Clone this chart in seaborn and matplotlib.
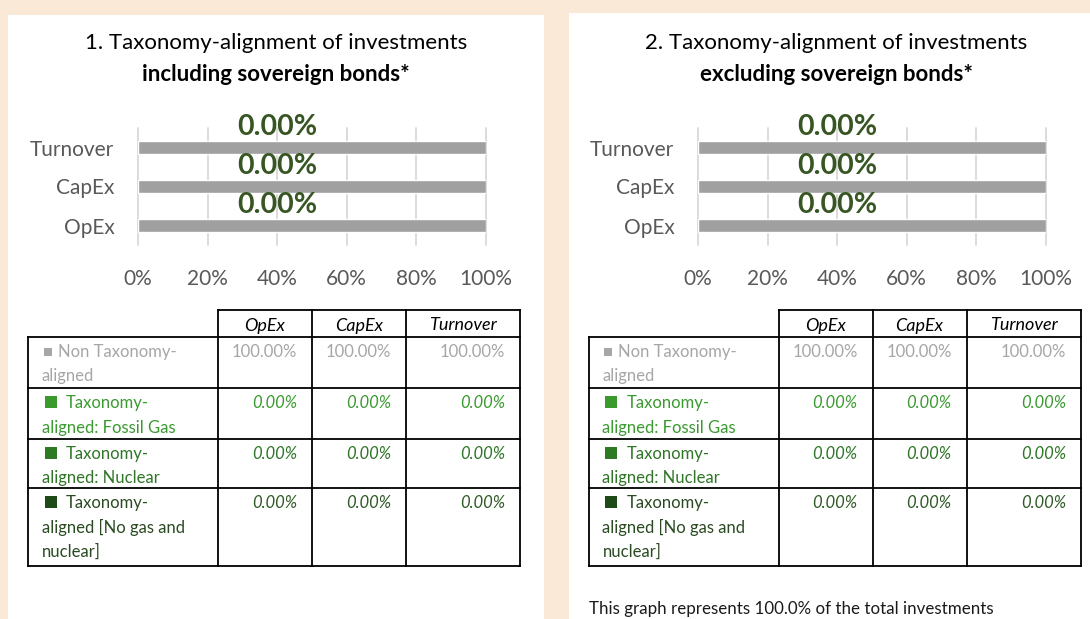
import matplotlib
matplotlib.use('Agg')
import matplotlib.pyplot as plt
import seaborn as sns
import pandas as pd
from matplotlib.patches import Rectangle
from matplotlib.lines import Line2D

# ---------------- data ----------------
categories = ['Turnover', 'CapEx', 'OpEx']
non_aligned_incl = [100.0, 100.0, 100.0]
aligned_incl = [0.0, 0.0, 0.0]
non_aligned_excl = [100.0, 100.0, 100.0]
aligned_excl = [0.0, 0.0, 0.0]
x_ticks = [0, 20, 40, 60, 80, 100]
x_tick_labels = ['0%', '20%', '40%', '60%', '80%', '100%']

table_cols = ['OpEx', 'CapEx', 'Turnover']
row_labels = [
    ['Non Taxonomy-', 'aligned'],
    ['Taxonomy-', 'aligned: Fossil Gas'],
    ['Taxonomy-', 'aligned: Nuclear'],
    ['Taxonomy-', 'aligned [No gas and', 'nuclear]'],
]
table_incl = [[100.0, 100.0, 100.0], [0.0, 0.0, 0.0], [0.0, 0.0, 0.0], [0.0, 0.0, 0.0]]
table_excl = [[100.0, 100.0, 100.0], [0.0, 0.0, 0.0], [0.0, 0.0, 0.0], [0.0, 0.0, 0.0]]
titles = [('1. Taxonomy-alignment of investments', 'including sovereign bonds*'),
          ('2. Taxonomy-alignment of investments', 'excluding sovereign bonds*')]
footer = 'This graph represents 100.0% of the total investments'

# ---------------- style ----------------
sns.set_theme(style='white')
FONT = ['Lato', 'DejaVu Sans']
plt.rcParams['font.family'] = FONT

W, H = 1090, 619
BG = '#FBE9D8'
BAR = '#A0A0A0'
GRID = '#D9D9D9'
TICK = '#595959'
LABEL_GREEN = '#375623'
row_text_colors = ['#A6A6A6', '#3A9A30', '#2E7526', '#2A4A22']
row_square_colors = ['#A6A6A6', '#3A9A2C', '#2E7A24', '#1E4A17']
row_value_colors = ['#A6A6A6', '#3A9A30', '#2E7526', '#2F5A27']
row_value_italic = [False, True, True, True]


def fx(x):
    return x / W


def fy(y):
    return 1 - y / H


fig = plt.figure(figsize=(W / 100, H / 100), dpi=100, facecolor=BG)

# white panels
for (x0, y0, x1, y1) in [(8, 15, 544, 619), (569, 13, 1090, 619)]:
    fig.add_artist(Rectangle((fx(x0), fy(y1)), (x1 - x0) / W, (y1 - y0) / H,
                             transform=fig.transFigure, facecolor='white',
                             edgecolor='none', zorder=0))

panels = [
    dict(dx=0, non=non_aligned_incl, al=aligned_incl, tab=table_incl, title=titles[0],
         tab_x=[28, 218, 312, 406, 520]),
    dict(dx=560, non=non_aligned_excl, al=aligned_excl, tab=table_excl, title=titles[1],
         tab_x=[588.5, 778.5, 872.5, 966.5, 1081]),
]

row_tops = [337, 388, 439, 488, 566]
header_top = 310

for p in panels:
    dx = p['dx']
    # titles
    fig.text(fx(276 + dx), fy(49), p['title'][0], ha='center', va='baseline',
             fontsize=16, color='black')
    fig.text(fx(276 + dx), fy(81), p['title'][1], ha='center', va='baseline',
             fontsize=16, fontweight='bold', color='black')

    # bar chart
    ax = fig.add_axes([fx(138 + dx), fy(245), 348 / W, 117 / H])
    df = pd.DataFrame({'category': categories, 'value': p['non']})
    sns.barplot(data=df, x='value', y='category', order=categories, color=BAR,
                saturation=1, width=0.33, ax=ax)
    ax.set_xlim(0, 100)
    ax.set_ylim(2.5, -0.5)
    ax.set_xticks(x_ticks)
    ax.set_xticklabels(x_tick_labels)
    ax.set_xlabel('')
    ax.set_ylabel('')
    ax.set_facecolor('none')
    for s in ax.spines.values():
        s.set_visible(False)
    ax.xaxis.grid(True, color=GRID, lw=1.3)
    ax.yaxis.grid(False)
    ax.set_axisbelow(True)
    for gl in ax.get_xgridlines():
        gl.set_clip_on(False)
    ax.tick_params(axis='both', length=0, labelsize=15, labelcolor=TICK)
    ax.tick_params(axis='y', pad=17)
    ax.tick_params(axis='x', pad=17)
    for i, v in enumerate(p['al']):
        ax.text(40, i - 0.31, f'{v:.2f}%', ha='center', va='baseline',
                fontsize=20.5, fontweight='bold', color=LABEL_GREEN)

    # table
    tx = list(p['tab_x'])
    lw = 1.3

    def hline(y, x0, x1):
        fig.add_artist(Line2D([fx(x0), fx(x1)], [fy(y), fy(y)], color='black', lw=lw,
                              transform=fig.transFigure, solid_capstyle='projecting'))

    def vline(x, y0, y1):
        fig.add_artist(Line2D([fx(x), fx(x)], [fy(y0), fy(y1)], color='black', lw=lw,
                              transform=fig.transFigure, solid_capstyle='projecting'))

    hline(header_top, tx[1], tx[4])
    for y in row_tops:
        hline(y, tx[0], tx[4])
    vline(tx[0], row_tops[0], row_tops[-1])
    for x in tx[1:]:
        vline(x, header_top, row_tops[-1])
    for j, col in enumerate(table_cols):
        fig.text(fx((tx[j + 1] + tx[j + 2]) / 2), fy(330.5), col, ha='center',
                 va='baseline', fontsize=13, style='italic', color='black')

    for r, lines in enumerate(row_labels):
        top = row_tops[r]
        base = top + 20
        # legend square
        if r == 0:
            sq = (tx[0] + 15.5, base - 9, 8, 8)
            first_x = tx[0] + 30
        else:
            sq = (tx[0] + 16.5, base - 12.5, 12, 12)
            first_x = tx[0] + 38
        fig.add_artist(Rectangle((fx(sq[0]), fy(sq[1] + sq[3])), sq[2] / W, sq[3] / H,
                                 transform=fig.transFigure, facecolor=row_square_colors[r],
                                 edgecolor='none'))
        for k, line in enumerate(lines):
            x = first_x if k == 0 else tx[0] + 14
            fig.text(fx(x), fy(base + 24.5 * k), line, ha='left', va='baseline',
                     fontsize=12, color=row_text_colors[r])
        for j in range(3):
            val = p['tab'][r][j]
            fig.text(fx(tx[j + 2] - 15), fy(base), f'{val:.2f}%', ha='right',
                     va='baseline', fontsize=12, color=row_value_colors[r],
                     style='italic' if row_value_italic[r] else 'normal')

fig.text(fx(589), fy(614), footer, ha='left', va='baseline', fontsize=12.2, color='#1A1A1A')

fig.savefig('out.png', dpi=100, facecolor=BG)
